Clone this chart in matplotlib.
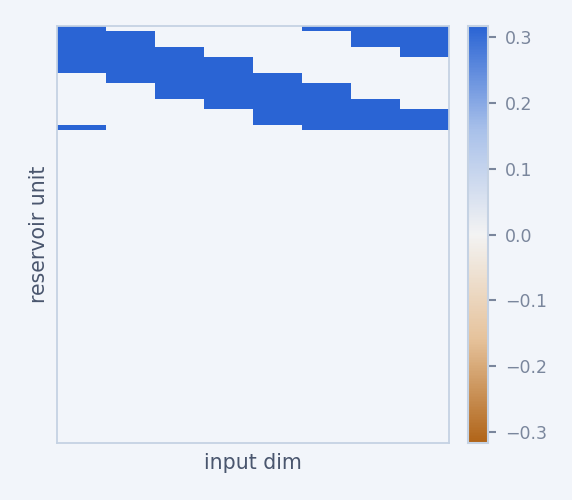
import numpy as np
import matplotlib
matplotlib.use("Agg")
import matplotlib.pyplot as plt
from matplotlib.colors import LinearSegmentedColormap

# input weight map: 80 reservoir units x 8 input dims
n_units = 80
n_inputs = 8
n_active = 20          # only first 20 units receive input
window = 10            # each input feeds 10 consecutive units (wrapping)
start_row = [19, 1, 4, 6, 9, 11, 14, 16]
weight = 0.316
vlim = 0.316
cbar_ticks = [-0.3, -0.2, -0.1, 0.0, 0.1, 0.2, 0.3]

W = np.zeros((n_units, n_inputs))
for j, s in enumerate(start_row):
    for k in range(window):
        W[(s + k) % n_active, j] = weight

BG = "#f2f5fa"
EDGE = "#c5d2e3"
cmap = LinearSegmentedColormap.from_list(
    "bw", ["#b06418", "#e6c39c", "#f3f3f3", "#a9c1ea", "#2a64d4"])

fig = plt.figure(figsize=(5.72, 5.0), dpi=100, facecolor=BG)
ax = fig.add_axes([57/572, 1 - 443/500, 392/572, 417/500])
cax = fig.add_axes([468/572, 1 - 443/500, 20/572, 417/500])

im = ax.imshow(W, aspect="auto", cmap=cmap, vmin=-vlim, vmax=vlim,
               interpolation="nearest")
# zero cells blend into background
ax.imshow(np.ma.masked_where(W != 0, np.ones_like(W)), aspect="auto",
          cmap=LinearSegmentedColormap.from_list("z", [BG, BG]),
          interpolation="nearest")
ax.set_xticks([]); ax.set_yticks([])
for sp in ax.spines.values():
    sp.set_color(EDGE); sp.set_linewidth(1.3)
ax.set_xlabel("input dim", fontsize=14.8, color="#4a566e", labelpad=7)
ax.set_ylabel("reservoir unit", fontsize=14.8, color="#4a566e", labelpad=6)

cb = fig.colorbar(im, cax=cax, ticks=cbar_ticks)
cb.outline.set_edgecolor(EDGE); cb.outline.set_linewidth(1.5)
cax.tick_params(colors="#7a869c", labelsize=12.5, length=6, width=1.5, pad=6)
cax.set_yticklabels([f"{t:.1f}".replace("-", "\u2212") for t in cbar_ticks])

fig.savefig("out.png", dpi=100, facecolor=BG)
